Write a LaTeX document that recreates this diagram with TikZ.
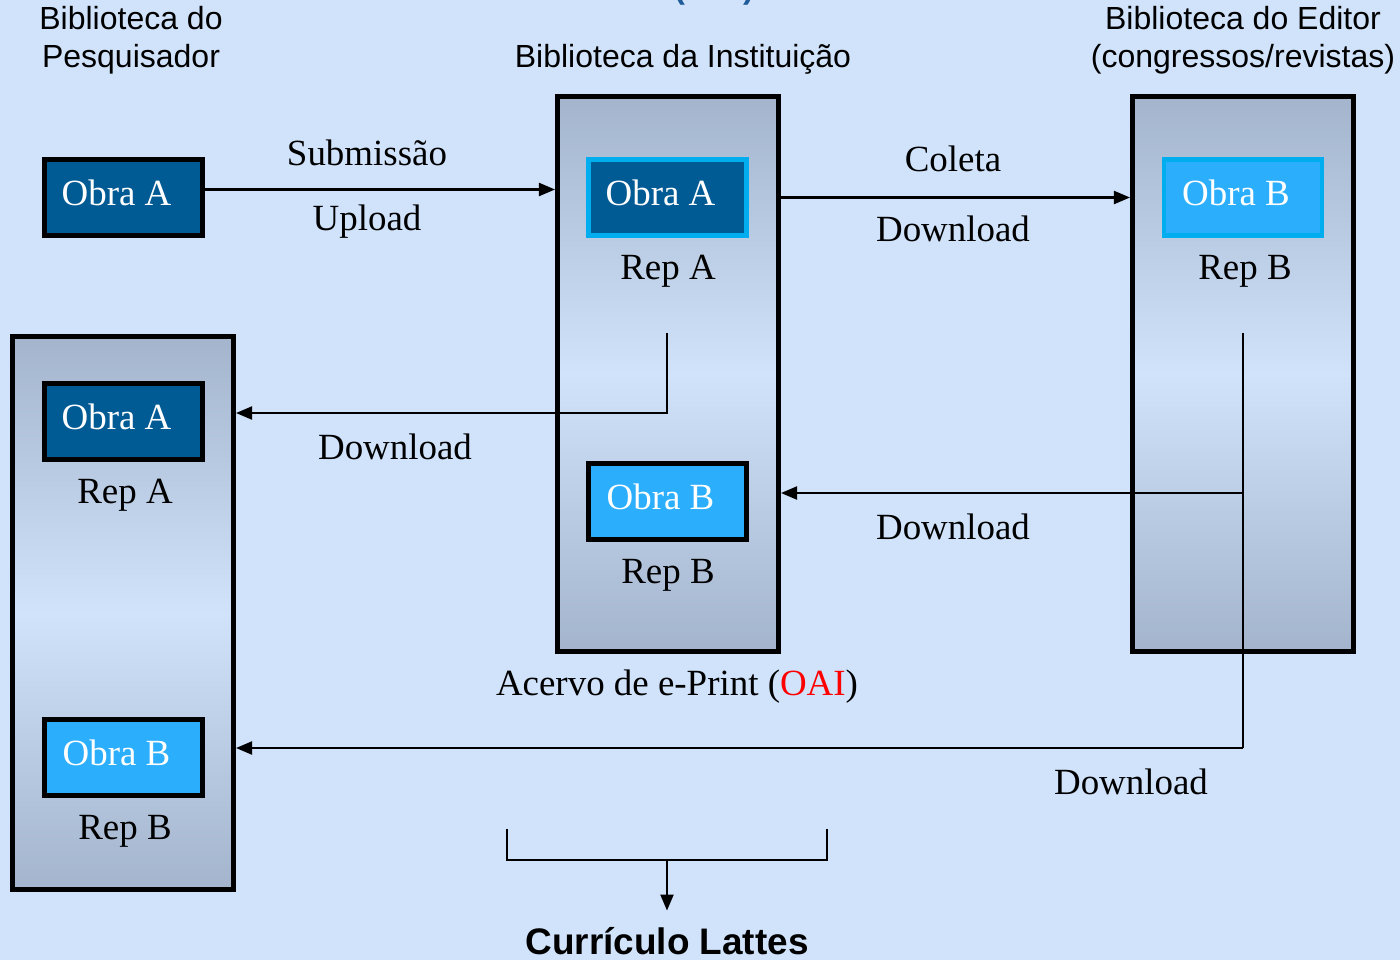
\documentclass[tikz,border=0pt]{standalone}
\usepackage{fontspec}
\setmainfont{Liberation Serif}
\setsansfont{Liberation Sans}
\usepackage{tikz}
\usetikzlibrary{arrows.meta}
\definecolor{fundo}{HTML}{D0E3FB}
\definecolor{cinza}{HTML}{A3B4CC}
\definecolor{obraA}{HTML}{005A93}
\definecolor{obraB}{HTML}{2BAEFC}
\definecolor{oaiazul}{HTML}{1F5C99}
\newcommand{\obratxt}[1]{\hspace*{-0.14cm}\raisebox{0.1cm}{#1}}

\begin{document}
\begin{tikzpicture}[x=0.01cm, y=-0.01cm,
    rep/.style={draw=black, line width=1.4pt, top color=cinza, bottom color=cinza,
        middle color=fundo, minimum width=2.21cm, minimum height=5.55cm},
    obra/.style={line width=1.3pt, minimum width=1.58cm, minimum height=0.76cm,
        text=white, font=\fontsize{10.5}{12}\selectfont, inner sep=0pt},
    obraa/.style={obra, fill=obraA, draw=black},
    obrab/.style={obra, fill=obraB, draw=black},
    coleta/.style={draw=cyan},
    rotulo/.style={font=\fontsize{10.5}{12}\selectfont, inner sep=0pt},
    titulo/.style={font=\sffamily\fontsize{9.1}{10.8}\selectfont, align=center, inner sep=0pt},
    link/.style={draw=black, line width=0.6pt, -{Triangle[length=0.16cm, width=0.13cm]}}]
  \useasboundingbox (0,0) rectangle (1400,960);
  \fill[fundo] (0,0) rectangle (1400,960);
  % titulo cortado no topo
  \node[anchor=base, font=\sffamily\bfseries\fontsize{9.3}{11}\selectfont, text=oaiazul, inner sep=0pt]
    (topo) at (714,-2) {(OAI)};
  % bibliotecas
  \node[titulo] (tpesq) at (131,40) {Biblioteca do\\Pesquisador};
  \node[titulo] (tinst) at (683,59) {Biblioteca da Instituição};
  \node[titulo] (tedit) at (1243,40) {Biblioteca do Editor\\(congressos/revistas)};
  % repositorios
  \node[rep, minimum height=5.53cm] (pesq) at (123,613) {};
  \node[rep] (inst) at (668,374) {};
  \node[rep] (edit) at (1243,374) {};
  % obras
  \node[obraa] (obraP) at (123.5,197.5) {\obratxt{Obra A}};
  \node[obraa, coleta] (obraI) at (667.5,197.5) {\obratxt{Obra A}};
  \node[rotulo] (repIA) at (668,271) {Rep A};
  \node[obrab] (obraIB) at (667.5,501.5) {\obratxt{Obra B}};
  \node[rotulo] (repIB) at (668,575) {Rep B};
  \node[obrab, coleta] (obraE) at (1243,197.5) {\obratxt{Obra B}};
  \node[rotulo] (repEB) at (1245,271) {Rep B};
  \node[obraa] (obraLA) at (123.5,421.5) {\obratxt{Obra A}};
  \node[rotulo] (repLA) at (125,495) {Rep A};
  \node[obrab] (obraLB) at (123.5,757.5) {\obratxt{Obra B}};
  \node[rotulo] (repLB) at (125,831) {Rep B};
  % fluxos
  \draw[link] ([yshift=0.08cm]obraP.east) -- ([yshift=0.08cm]obraP.east -| inst.west);
  \node[rotulo] (sub) at (367,153) {Submissão};
  \node[rotulo] (upl) at (367,222) {Upload};
  \draw[link] (inst.east |- obraI.center) -- (edit.west |- obraI.center);
  \node[rotulo] (col) at (953,159) {Coleta};
  \node[rotulo] (dw1) at (953,229) {Download};
  \coordinate (ia) at (667,333);
  \coordinate (ib) at (667,413);
  \draw[link] (ia) -- (ib) -- (ib -| pesq.east);
  \node[rotulo] (dw2) at (395,447) {Download};
  \coordinate (eb) at (1243,333);
  \coordinate (ec) at (1243,493);
  \coordinate (ed) at (1243,748);
  \draw[line width=0.6pt] (eb) -- (ed);
  \draw[link] (ec) -- (ec -| inst.east);
  \node[rotulo] (dw3) at (953,527) {Download};
  \draw[link] (ed) -- (ed -| pesq.east);
  \node[rotulo] (dw4) at (1131,782) {Download};
  \node[rotulo] (acervo) at (677,687) {Acervo de e-Print (\textcolor{red}{OAI})};
  % curriculo
  \coordinate (bl) at (507,829);
  \coordinate (br) at (827,829);
  \coordinate (bm) at (667,860);
  \draw[line width=0.6pt] (bl) |- (bm) -| (br);
  \node[font=\sffamily\bfseries\fontsize{10.5}{12}\selectfont, inner sep=0pt] (lattes) at (667,941) {Currículo Lattes};
  \draw[link] (bm) -- ([yshift=0.16cm]lattes.north);
\end{tikzpicture}
\end{document}
